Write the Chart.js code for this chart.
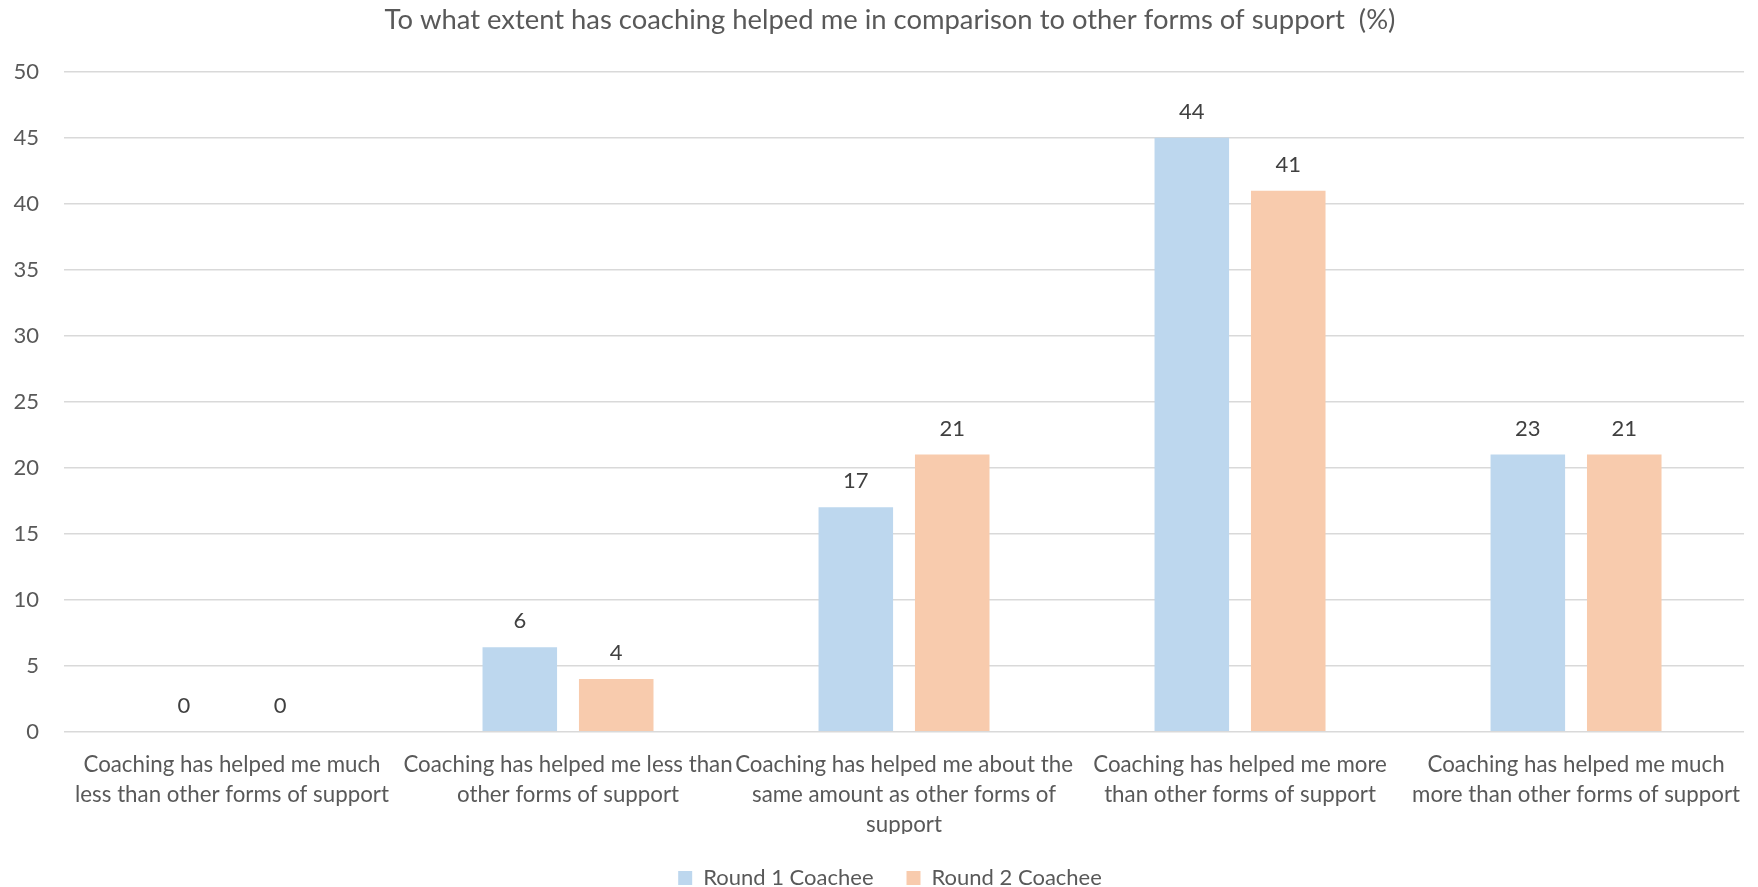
<!DOCTYPE html>
<html>
<head>
<meta charset="utf-8">
<script src="https://cdn.jsdelivr.net/npm/chart.js@4.4.0/dist/chart.umd.min.js"></script>
<style>
html,body{margin:0;padding:0;background:#fff;}
#wrap{width:1758px;height:887px;}
</style>
</head>
<body>
<div id="wrap"><canvas id="c" width="1758" height="887"></canvas></div>
<script>
const categories = [
  ["Coaching has helped me much", "less than other forms of support"],
  ["Coaching has helped me less than", "other forms of support"],
  ["Coaching has helped me about the", "same amount as other forms of", "support"],
  ["Coaching has helped me more", "than other forms of support"],
  ["Coaching has helped me much", "more than other forms of support"]
];
const seriesNames = ["Round 1 Coachee", "Round 2 Coachee"];
const round1Values = [0, 6.4, 17, 45, 21];
const round2Values = [0, 4, 21, 41, 21];
const round1Labels = ["0", "6", "17", "44", "23"];
const round2Labels = ["0", "4", "21", "41", "21"];
const yTicks = [0, 5, 10, 15, 20, 25, 30, 35, 40, 45, 50];

const FONT = "Lato";
const labelSets = [round1Labels, round2Labels];

const dataLabelPlugin = {
  id: 'dataLabels',
  afterDatasetsDraw(chart) {
    const ctx = chart.ctx;
    ctx.save();
    ctx.font = "22px " + FONT;
    ctx.fillStyle = "#404040";
    ctx.textAlign = "center";
    ctx.textBaseline = "middle";
    chart.data.datasets.forEach((ds, di) => {
      const meta = chart.getDatasetMeta(di);
      meta.data.forEach((bar, i) => {
        ctx.fillText(labelSets[di][i], bar.x, bar.y - 26);
      });
    });
    ctx.restore();
  }
};

new Chart(document.getElementById('c'), {
  type: 'bar',
  data: {
    labels: categories,
    datasets: [
      { label: seriesNames[0], data: round1Values, backgroundColor: "#BDD7EE", borderWidth: 0,
        categoryPercentage: 0.574, barPercentage: 0.773 },
      { label: seriesNames[1], data: round2Values, backgroundColor: "#F8CBAD", borderWidth: 0,
        categoryPercentage: 0.574, barPercentage: 0.773 }
    ]
  },
  options: {
    responsive: false,
    animation: false,
    devicePixelRatio: 1,
    layout: { padding: { left: 0, right: -22, top: 4, bottom: -12 } },
    plugins: {
      title: {
        display: true,
        text: "To what extent has coaching helped me in comparison to other forms of support  (%)",
        color: "#595959",
        font: { family: FONT, size: 27.4, weight: 'normal' },
        padding: { top: 0, bottom: 35 }
      },
      legend: {
        position: 'bottom',
        labels: {
          color: "#595959",
          font: { family: FONT, size: 22 },
          boxWidth: 14, boxHeight: 14,
          padding: 33
        }
      },
      tooltip: { enabled: false }
    },
    scales: {
      x: {
        grid: { display: false, drawTicks: false },
        border: { display: false },
        afterFit(axis) { axis.height -= 24; },
        ticks: {
          color: "#595959",
          font: { family: FONT, size: 22.3, lineHeight: 1.35 },
          maxRotation: 0, autoSkip: false, padding: 18
        }
      },
      y: {
        min: 0, max: 50,
        afterBuildTicks(axis) { axis.ticks = yTicks.map(v => ({ value: v })); },
        afterFit(axis) { axis.width = 64; },
        grid: { color: "#D9D9D9", lineWidth: 1.5, drawTicks: false },
        border: { display: false },
        ticks: {
          color: "#595959",
          font: { family: FONT, size: 22 },
          padding: 25
        }
      },
      yRight: {
        position: 'right',
        display: true,
        afterFit(axis) { axis.width = 16; },
        grid: { display: false, drawTicks: false },
        border: { display: false },
        ticks: { display: false }
      }
    }
  },
  plugins: [dataLabelPlugin]
});
</script>
</body>
</html>
